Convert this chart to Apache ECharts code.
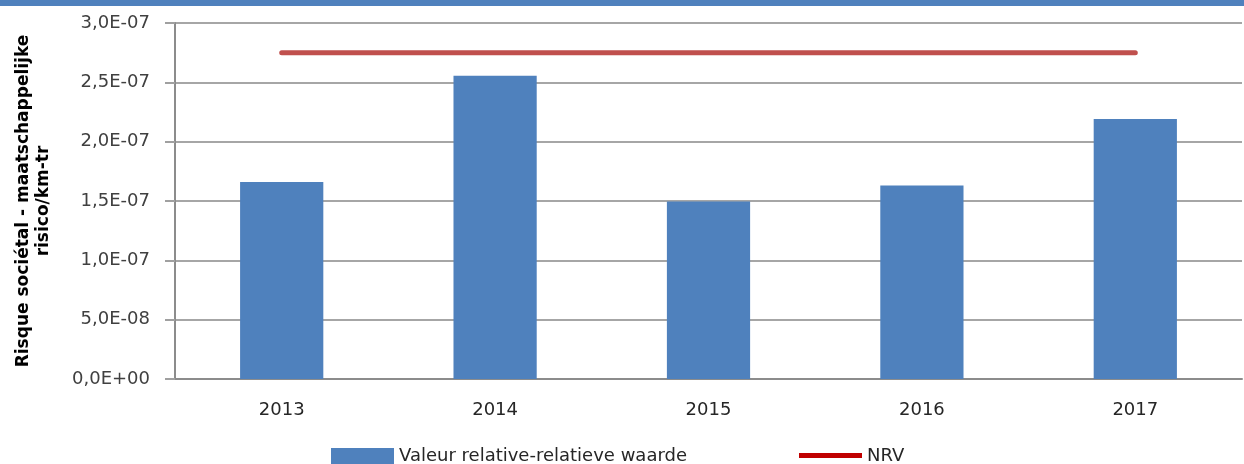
<!DOCTYPE html>
<html>
	<head>
		<meta charset="UTF-8">
		<title></title>
		<style>
			html,body{margin:0;padding:0;background:#fff}
			#band{height:6px;background:#4f81bd}
			#chart{width:1244px;height:458px}
		</style>
	</head>
	<body>
		<div id="band"></div>
		<div id="chart"></div>
		<script src="https://cdn.jsdelivr.net/npm/echarts@6/dist/echarts.min.js"></script>
<script>
// data
var years = ['2013', '2014', '2015', '2016', '2017'];
var relValues = [1.66e-7, 2.555e-7, 1.495e-7, 1.63e-7, 2.19e-7];
var nrvValues = [2.75e-7, 2.75e-7, 2.75e-7, 2.75e-7, 2.75e-7];
var yMin = 0, yMax = 3e-7, yStep = 5e-8;

// 3e-7 -> "3,0E-07"
function sci(v) {
	if (Math.abs(v) < 1e-20) return '0,0E+00';
	var s = v.toExponential(1).split('e');
	var exp = parseInt(s[1], 10);
	var e = Math.abs(exp);
	return s[0].replace('.', ',') + 'E' + (exp < 0 ? '-' : '+') + (e < 10 ? '0' + e : e);
}

var chart = echarts.init(document.getElementById('chart'));
var font = 'DejaVu Sans';
chart.setOption({
	animation: false,
	textStyle: { fontFamily: font },
	grid: { left: 175, right: 2, top: 17, bottom: 85 },
	legend: {
		left: 326,
		top: 436,
		itemWidth: 63,
		itemHeight: 16,
		itemGap: 112,
		textStyle: { fontFamily: font, fontSize: 18, color: '#262626' },
		data: [
			{ name: 'Valeur relative-relatieve waarde', icon: 'rect' },
			// thick short bar inside a 63x16 box
			{ name: 'NRV', icon: 'path://M0,0L0,0M0,16L0,16M0,5L63,5L63,10L0,10Z', itemStyle: { color: '#c00000' } }
		]
	},
	xAxis: {
		type: 'category',
		data: years,
		axisLine: { lineStyle: { color: '#8c8c8c', width: 2 } },
		axisTick: { show: false },
		axisLabel: { fontFamily: font, fontSize: 18, color: '#262626', margin: 22 }
	},
	yAxis: {
		type: 'value',
		min: yMin,
		max: yMax,
		interval: yStep,
		name: 'Risque sociétal - maatschappelijke\nrisico/km-tr',
		nameLocation: 'middle',
		nameGap: 121,
		nameTextStyle: { fontFamily: font, fontSize: 17, fontWeight: 'bold', color: '#000', lineHeight: 20 },
		axisLine: { show: true, lineStyle: { color: '#8c8c8c', width: 2 } },
		axisTick: { show: true, length: 10, lineStyle: { color: '#a0a0a0', width: 2 } },
		splitLine: { lineStyle: { color: '#a6a6a6', width: 2 } },
		axisLabel: { fontFamily: font, fontSize: 18, color: '#404040', margin: 25, formatter: sci }
	},
	series: [
		{
			name: 'Valeur relative-relatieve waarde',
			type: 'bar',
			barWidth: '39%',
			itemStyle: { color: '#4f81bd' },
			data: relValues
		},
		{
			name: 'NRV',
			type: 'line',
			symbol: 'none',
			lineStyle: { color: '#c0504d', width: 5, cap: 'round' },
			data: nrvValues
		}
	]
});
</script>
	</body>
</html>
